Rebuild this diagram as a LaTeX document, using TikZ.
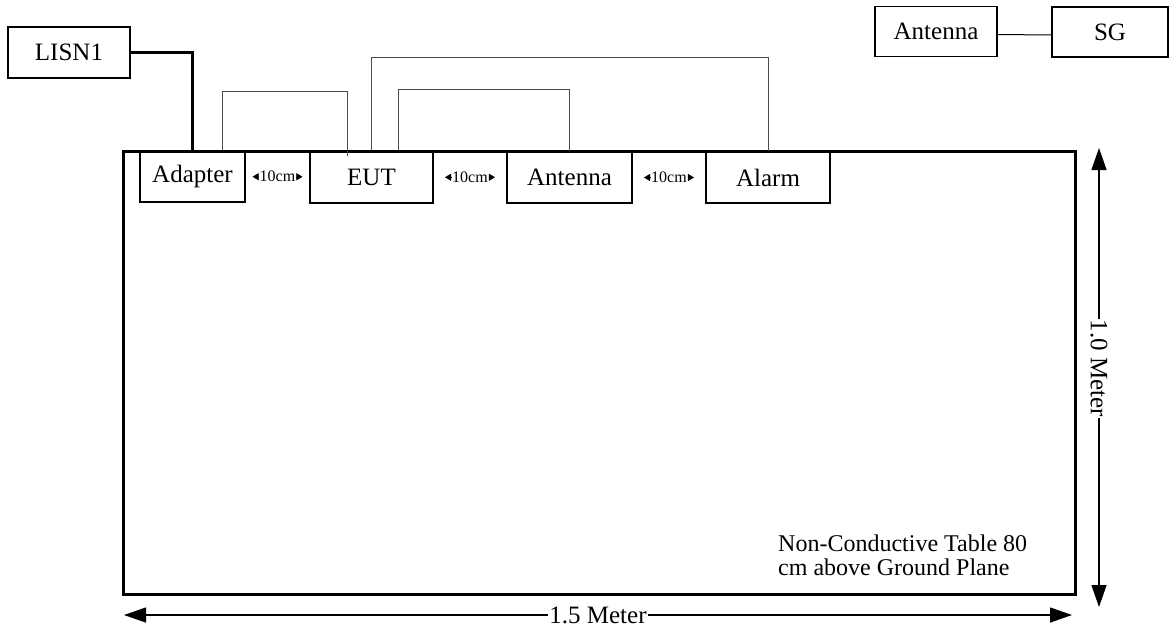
\documentclass[tikz,border=0pt]{standalone}
\usepackage{fontspec}
\setmainfont{Liberation Serif}
\usetikzlibrary{arrows.meta,calc}

\tikzset{
  unit/.style={draw, line width=1.3pt, fill=white, inner sep=0pt, font=\fontsize{25}{28}\selectfont},
  wire/.style={draw=black!70, line width=1pt},
  gap/.style={font=\fontsize{16}{18}\selectfont, inner sep=1pt},
  gaptip/.style={-{Triangle[length=6pt,width=7pt]}},
  dim/.style={line width=1.3pt, {Triangle[length=22pt,width=15pt]}-{Triangle[length=22pt,width=15pt]}},
  dimlabel/.style={fill=white, inner sep=1pt, font=\fontsize{25}{28}\selectfont},
}

\begin{document}
\begin{tikzpicture}[x=1pt, y=-1pt]
	\useasboundingbox (0,0) rectangle (1170,629);
	% Units:
	\node[unit, minimum width=122pt, minimum height=51pt] (lisn) at (69,52.5) {LISN1};
	\node[unit, minimum width=105pt, minimum height=51pt] (adapter) at (192.5,176.5) {Adapter};
	\node[unit, minimum width=123pt, minimum height=52pt] (eut) at (371.5,177) {EUT};
	\node[unit, minimum width=125pt, minimum height=51pt] (antenna) at (569.5,177.5) {Antenna};
	\node[unit, minimum width=124pt, minimum height=51pt] (alarm) at (768,177.5) {Alarm};
	\node[unit, minimum width=122pt, minimum height=50pt] (antB) at (936,31.5) {Antenna};
	\node[unit, minimum width=116pt, minimum height=50pt] (sg) at (1110,32) {SG};
	% Table:
	\node[draw, line width=3pt, minimum width=952pt, minimum height=443pt, inner sep=0pt] (table) at (599,372.5) {};
	\node[anchor=north west, align=left, inner sep=0pt, font=\fontsize{24}{24}\selectfont] (note) at (778,535) {Non-Conductive Table 80\\cm above Ground Plane};
	% Cables:
	\coordinate (hiA) at (0,91);
	\coordinate (hiB) at (0,89);
	\coordinate (hiC) at (0,57);
	\coordinate (a1) at ([xshift=30pt]adapter.north);
	\coordinate (e1) at ([xshift=-24.5pt,yshift=-6pt]eut.north);
	\coordinate (e2) at ([xshift=26.5pt]eut.north);
	\draw[line width=3pt] (lisn.east) -| (adapter.north);
	\draw[wire] (a1) -- (a1 |- hiA) -| (e1);
	\draw[wire] (eut.north) -- (eut.north |- hiC) -| (alarm.north);
	\draw[wire] (e2) -- (e2 |- hiB) -| (antenna.north);
	\draw[wire, draw=black] ([yshift=-3pt]antB.east) -- ([yshift=-3pt]sg.west);
	% Spacings:
	\node[gap] (g1) at ($(adapter.east)!0.5!(eut.west)$) {10cm};
	\node[gap] (g2) at ($(eut.east)!0.5!(antenna.west)$) {10cm};
	\node[gap] (g3) at ($(antenna.east)!0.5!(alarm.west)$) {10cm};
	\foreach \g in {g1,g2,g3} {
		\draw[gaptip] (\g.west) -- ++(-6,0);
		\draw[gaptip] (\g.east) -- ++(6,0);
	}
	% Dimensions:
	\coordinate (vtop) at (1099,148);
	\coordinate (vbot) at (1099,607);
	\coordinate (hleft) at (124,615);
	\coordinate (hright) at (1072,615);
	\draw[dim] (vtop) -- (vbot) node[dimlabel, pos=0.48, rotate=-90] (vlab) {1.0 Meter};
	\draw[dim] (hleft) -- (hright) node[dimlabel, midway] (hlab) {1.5 Meter};
\end{tikzpicture}
\end{document}
